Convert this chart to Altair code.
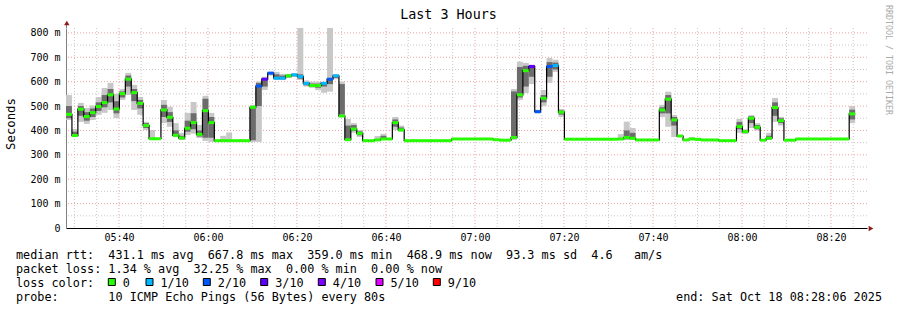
import altair as alt
import pandas as pd

# ---------------- data ----------------
START_MIN = 28.1          # 05:28:06, minutes after 05:00
END_MIN = 208.1           # 08:28:06
STEP_MIN = 80.0 / 60.0    # one probe round every 80 s

median_ms = [
    466, 379, 487, 457, 473, 498, 514, 546, 488, 551, 610, 555, 511, 420,
    366, 366,
    484, 454, 380, 369, 409, 432, 384, 481, 432,
    358, 358, 358, 358, 358, 358,
    495, 582, 610, 635, 614, 614, 624, 628, 621, 593, 584, 584, 593, 610, 624, 459,
    362, 406, 388, 358, 358, 361, 365, 365, 432, 402,
    358, 358, 358, 358, 358, 358, 358, 358,
    365, 365, 365, 365, 365, 365, 365,
    362, 360, 360,
    371, 546, 645, 662, 477, 532, 662, 666, 475,
    364, 364, 364, 364, 364, 364, 364, 364, 364,
    365, 371, 368,
    361, 361, 361, 361,
    484, 528, 443, 377,
    361, 365, 363,
    361, 361, 361,
    358, 358, 358,
    416, 395, 450, 413, 360, 368, 494, 440,
    360, 360,
    365, 365, 365, 365, 365, 365, 365, 365, 365,
    468,
    None, None,
]

loss_tenths = [
    0, 0, 0, 0, 0, 0, 0, 0, 0, 0, 0, 0, 0, 0,
    0, 0,
    0, 0, 0, 0, 0, 0, 0, 0, 0,
    0, 0, 0, 0, 0, 0,
    0, 2, 3, 2, 1, 1, 0, 1, 1, 1, 0, 0, 1, 2, 1, 0,
    0, 0, 0, 0, 0, 0, 0, 0, 0, 0,
    0, 0, 0, 0, 0, 0, 0, 0,
    0, 0, 0, 0, 0, 0, 0,
    0, 0, 0,
    0, 0, 0, 3, 2, 0, 2, 1, 0,
    0, 0, 0, 0, 0, 0, 0, 0, 0,
    0, 0, 0,
    0, 0, 0, 0,
    0, 0, 0, 0,
    0, 0, 0,
    0, 0, 0,
    0, 0, 0,
    0, 0, 0, 0, 0, 0, 0, 0,
    0, 0,
    0, 0, 0, 0, 0, 0, 0, 0, 0,
    0,
    0, 0,
]

N = None
smoke_lo = [
    443, 373, 435, 427, 443, 464, 472, 484, 451, 525, 545, 484, 464, 402,
    361, N,
    430, 415, 373, 361, 381, 386, 369, 357, 353,
    N, 358, 358, N, N, N,
    353, 353, 566, 625, 607, 607, 615, 620, 607, 580, 575, 565, 555, 559, 610, 455,
    361, 390, 373, N, N, 360, 362, N, 402, 395,
    N, N, N, N, N, N, N, N,
    N, N, N, N, N, N, N,
    N, N, N,
    361, 525, 553, 590, 470, 500, 595, 640, 455,
    N, N, N, N, N, N, N, N, N,
    364, 361, 361,
    N, N, N, N,
    455, 415, 373, 373,
    N, 364, 362,
    N, N, N,
    N, N, N,
    390, 385, 410, 400, N, 362, 435, 420,
    N, N,
    N, N, N, N, N, N, N, N, N,
    430,
    N, N,
]
smoke_hi = [
    545, 406, 513, 492, 502, 537, 574, 595, 550, 570, 636, 587, 537, 435,
    402, N,
    525, 497, 430, 390, 472, 517, 422, 542, 472,
    N, 378, 392, N, N, N,
    505, 600, 620, 640, 640, 632, 632, 635, 820, 605, 600, 600, 600, 820, 630, 600,
    447, 430, 402, N, N, 377, 386, N, 455, 420,
    N, N, N, N, N, N, N, N,
    N, N, N, N, N, N, N,
    N, N, N,
    570, 682, 677, 670, 485, 566, 697, 690, 488,
    N, N, N, N, N, N, N, N, N,
    385, 436, 410,
    N, N, N, N,
    505, 559, 463, 382,
    N, 372, 370,
    N, N, N,
    N, N, N,
    447, 405, 463, 430, N, 390, 533, 455,
    N, N,
    N, N, N, N, N, N, N, N, N,
    500,
    N, N,
]
core_lo = [
    450, 376, 460, 440, 455, 480, 495, 515, 470, 535, 580, 520, 490, 410,
    N, N,
    455, 435, 376, 364, 395, 405, 375, 370, 370,
    N, N, N, N, N, N,
    360, 500, 580, 630, 610, 610, 618, 622, 612, 585, 578, 575, 580, 590, 615, 465,
    365, 398, 380, N, N, N, 364, N, 415, 398,
    N, N, N, N, N, N, N, N,
    N, N, N, N, N, N, N,
    N, N, N,
    365, 535, 580, 620, 473, 515, 620, 650, 465,
    N, N, N, N, N, N, N, N, N,
    N, 364, 364,
    N, N, N, N,
    470, 470, 420, N,
    N, N, N,
    N, N, N,
    N, N, N,
    405, 390, 430, 405, N, 364, 460, 430,
    N, N,
    N, N, N, N, N, N, N, N, N,
    445,
    N, N,
]
core_hi = [
    500, 395, 500, 475, 490, 515, 545, 570, 520, 560, 625, 570, 525, 430,
    N, N,
    505, 475, 400, 378, 440, 470, 400, 530, 455,
    N, N, N, N, N, N,
    500, 595, 615, 638, 630, 625, 628, 632, 630, 598, 592, 592, 598, 615, 628, 590,
    420, 422, 396, N, N, N, 378, N, 445, 412,
    N, N, N, N, N, N, N, N,
    N, N, N, N, N, N, N,
    N, N, N,
    560, 660, 665, 668, 482, 545, 680, 678, 482,
    N, N, N, N, N, N, N, N, N,
    N, 400, 390,
    N, N, N, N,
    495, 545, 455, N,
    N, N, N,
    N, N, N,
    N, N, N,
    435, 400, 458, 422, N, 378, 515, 450,
    N, N,
    N, N, N, N, N, N, N, N, N,
    485,
    N, N,
]

loss_levels = [0, 1, 2, 3, 4, 5, 9]
loss_labels = ["0", "1/10", "2/10", "3/10", "4/10", "5/10", "9/10"]
loss_colors = ["#26ff00", "#00b8ff", "#0059ff", "#5e00ff", "#7e00ff", "#dd00ff", "#ff0000"]

x_tick_values = [40, 60, 80, 100, 120, 140, 160, 180, 200]
x_tick_labels = ["05:40", "06:00", "06:20", "06:40", "07:00", "07:20", "07:40", "08:00", "08:20"]
x_minor_grid = [30, 35, 45, 50, 55, 65, 70, 75, 85, 90, 95, 105, 110, 115, 125, 130, 135,
                145, 150, 155, 165, 170, 175, 185, 190, 195, 205]
y_tick_values = [0, 100, 200, 300, 400, 500, 600, 700, 800]
y_tick_labels = ["0\u00a0\u00a0", "100\u00a0m", "200\u00a0m", "300\u00a0m", "400\u00a0m",
                 "500\u00a0m", "600\u00a0m", "700\u00a0m", "800\u00a0m"]
y_minor_grid = [50, 150, 250, 350, 450, 550, 650, 750]

title_text = "Last 3 Hours"
y_title = "Seconds"
side_text = "RRDTOOL / TOBI OETIKER"
legend_lines = [
    "median rtt:  431.1 ms avg  667.8 ms max  359.0 ms min  468.9 ms now  93.3 ms sd  4.6   am/s",
    "packet loss: 1.34 % avg  32.25 % max  0.00 % min  0.00 % now",
    "loss color:",
    "probe:       10 ICMP Echo Pings (56 Bytes) every 80s",
]
end_text = "end: Sat Oct 18 08:28:06 2025"

# ---------------- tables ----------------
rows = []
for k, m in enumerate(median_ms):
    if m is None:
        continue
    t0 = START_MIN + k * STEP_MIN
    rows.append(dict(t0=t0, t1=t0 + STEP_MIN, med=m, loss=loss_tenths[k],
                     lo=smoke_lo[k], hi=smoke_hi[k], clo=core_lo[k], chi=core_hi[k]))
df = pd.DataFrame(rows)
df_smoke = df.dropna(subset=["lo", "hi"])
df_core = df.dropna(subset=["clo", "chi"])
df_line = pd.concat([df[["t0", "med"]],
                     pd.DataFrame({"t0": [df["t1"].iloc[-1]], "med": [df["med"].iloc[-1]]})],
                    ignore_index=True)

MONO = "DejaVu Sans Mono"
W, H = 801, 200
PAD_L, PAD_T = 66, 28

def label_expr(values, labels):
    return "".join(f"datum.value == {v} ? '{l}' : " for v, l in zip(values, labels)) + "''"

xs = alt.Scale(domain=[START_MIN, END_MIN], nice=False, zero=False)
ys = alt.Scale(domain=[0, 820], nice=False, zero=False)
x_axis = alt.Axis(values=x_tick_values, labelExpr=label_expr(x_tick_values, x_tick_labels),
                  grid=False, ticks=False, domainColor="#000000", domainWidth=1,
                  labelFont=MONO, labelFontSize=10, labelColor="#000000",
                  labelPadding=4, title=None, labelOverlap=False, labelFlush=False)
y_axis = alt.Axis(values=y_tick_values, labelExpr=label_expr(y_tick_values, y_tick_labels),
                  grid=False, ticks=False, domainColor="#808080", domainWidth=1,
                  labelFont=MONO, labelFontSize=10, labelColor="#000000",
                  labelPadding=6, title=None, labelOverlap=False)

def X(f):
    return alt.X(f, scale=xs, axis=x_axis)

def Y(f):
    return alt.Y(f, scale=ys, axis=y_axis)

layers = []
# grid
layers.append(alt.Chart(pd.DataFrame({"v": y_minor_grid})).mark_rule(
    color="#c8c8c8", strokeDash=[1, 2], strokeWidth=1).encode(y=Y("v:Q")))
layers.append(alt.Chart(pd.DataFrame({"v": x_minor_grid})).mark_rule(
    color="#c8c8c8", strokeDash=[1, 2], strokeWidth=1).encode(x=X("v:Q")))
layers.append(alt.Chart(pd.DataFrame({"v": y_tick_values[1:]})).mark_rule(
    color="#f0a0a0", strokeDash=[1, 2], strokeWidth=1).encode(y=Y("v:Q")))
layers.append(alt.Chart(pd.DataFrame({"v": x_tick_values})).mark_rule(
    color="#f0a0a0", strokeDash=[1, 2], strokeWidth=1).encode(x=X("v:Q")))
# smoke
layers.append(alt.Chart(df_smoke).mark_rect(color="#c8c8c8").encode(
    x=X("t0:Q"), x2="t1:Q", y=Y("lo:Q"), y2="hi:Q"))
layers.append(alt.Chart(df_core).mark_rect(color="#6c6c6c").encode(
    x=X("t0:Q"), x2="t1:Q", y=Y("clo:Q"), y2="chi:Q"))
# median step line + loss-coloured median marks
layers.append(alt.Chart(df_line).mark_line(interpolate="step-after", color="#000000",
                                           strokeWidth=1.2).encode(x=X("t0:Q"), y=Y("med:Q")))
layers.append(alt.Chart(df).mark_rule(strokeWidth=3).encode(
    x=X("t0:Q"), x2="t1:Q", y=Y("med:Q"),
    color=alt.Color("loss:O", scale=alt.Scale(domain=loss_levels, range=loss_colors), legend=None)))

# arrows and axis extension
layers.append(alt.Chart(pd.DataFrame({"a": [1]})).mark_rule(color="#808080").encode(
    x=alt.value(0.5), y=alt.value(-4), y2=alt.value(0)))
layers.append(alt.Chart(pd.DataFrame({"a": [1]})).mark_point(
    shape="triangle-up", filled=True, color="#8b1c1c", size=30, opacity=1).encode(
    x=alt.value(0.8), y=alt.value(-5)))
layers.append(alt.Chart(pd.DataFrame({"a": [1]})).mark_point(
    shape="triangle-right", filled=True, color="#8b1c1c", size=30, opacity=1).encode(
    x=alt.value(W + 4), y=alt.value(H + 0.5)))

def text_layer(s, x, y, size, align="left", angle=0, color="#000000", baseline="middle"):
    return alt.Chart(pd.DataFrame({"t": [s.replace(" ", "\u00a0")]})).mark_text(
        font=MONO, fontSize=size, align=align, baseline=baseline, angle=angle, color=color
    ).encode(x=alt.value(x), y=alt.value(y), text="t:N")

layers.append(text_layer(title_text, 448.5 - PAD_L, 14.5 - PAD_T, 13.4, align="center"))
layers.append(text_layer(y_title, 11 - PAD_L, 124 - PAD_T, 12.3, align="center", angle=270))
layers.append(text_layer(side_text, 888 - PAD_L, 60 - PAD_T, 8.3, align="center", angle=90,
                         color="#aaaaaa"))
line_y = [254.5, 268.5, 282.5, 296.5]
for s, yy in zip(legend_lines, line_y):
    layers.append(text_layer(s, 16 - PAD_L, yy - PAD_T, 11.8))
layers.append(text_layer(end_text, 882 - PAD_L, 296.5 - PAD_T, 11.8, align="right"))

box_x = [108.3, 146.0, 203.3, 260.7, 318.3, 376.0, 433.3]
for bx, lab, col in zip(box_x, loss_labels, loss_colors):
    layers.append(alt.Chart(pd.DataFrame({"a": [1]})).mark_rect(
        color=col, stroke="#000000", strokeWidth=1).encode(
        x=alt.value(bx - PAD_L), x2=alt.value(bx + 7 - PAD_L),
        y=alt.value(278.5 - PAD_T), y2=alt.value(285.5 - PAD_T)))
    layers.append(text_layer(lab, bx + 14.5 - PAD_L, 282.5 - PAD_T, 11.8))

chart = alt.layer(*layers).properties(
    width=W, height=H,
    autosize=alt.AutoSizeParams(type="none"),
    padding={"left": PAD_L, "top": PAD_T, "right": 897 - PAD_L - W, "bottom": 310 - PAD_T - H},
    background="#ffffff",
).configure_view(stroke=None)

chart.save("out.html", embed_options={"renderer": "svg", "actions": False})
